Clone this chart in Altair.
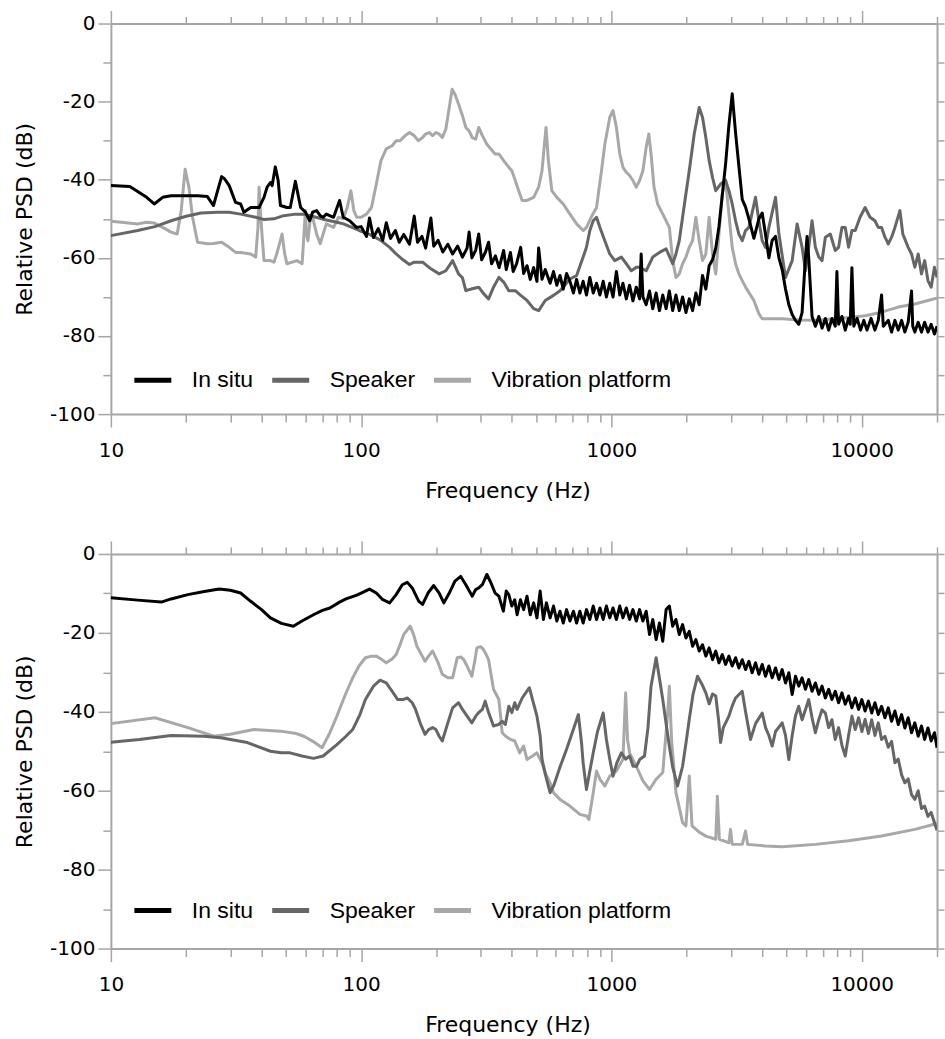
import altair as alt
import pandas as pd

# ---- series names and colours ----
SERIES = ["In situ", "Speaker", "Vibration platform"]
COLORS = ["#000000", "#666666", "#a8a8a8"]

# ---- axis ticks ----
X_TICKS = [10, 20, 30, 40, 50, 60, 70, 80, 90,
           100, 200, 300, 400, 500, 600, 700, 800, 900,
           1000, 2000, 3000, 4000, 5000, 6000, 7000, 8000, 9000,
           10000, 20000]
X_MAJOR = [10, 100, 1000, 10000]
Y_TICKS = [-100, -90, -80, -70, -60, -50, -40, -30, -20, -10, 0]

# ================= upper panel =================
top_insitu_hz = [10, 11.9, 13.9, 14.9, 16.1, 17.4, 19.8, 22.2, 24.3, 25.7, 26.7, 27.7, 28.5, 29.7,
                 31.5, 33.0, 34.0, 36.2, 39.1, 40.9, 42.1, 43.4, 44.1, 45.4, 46.6, 47.6, 50.5, 52.1,
                 54.6, 57.3, 59.9, 62.3, 64.0, 66.4, 68.6, 70.5, 72.6, 77.6, 82.0, 84.8, 90.0, 95.8,
                 100, 105, 108, 112, 117, 122, 126, 131, 137, 142, 148, 156, 163, 168, 175, 181,
                 190, 195, 203, 212, 222, 232, 243, 254, 265, 270, 277, 287, 295, 303, 314, 323,
                 332, 344, 356, 371, 380, 395, 405, 418, 434, 446, 460, 474, 489, 504, 512, 528,
                 544, 569, 587, 605, 623, 642, 662, 683, 705, 726, 748, 771, 795, 820, 846, 872,
                 900, 927, 955, 985, 1015, 1047, 1080, 1112, 1147, 1182, 1219, 1257, 1296, 1315,
                 1336, 1377, 1420, 1463, 1509, 1556, 1604, 1654, 1704, 1757, 1811, 1867, 1925,
                 1985, 2047, 2110, 2175, 2243, 2312, 2384, 2458, 2535, 2612, 2690, 2773, 2859,
                 2948, 3039, 3134, 3231, 3332, 3436, 3543, 3710, 3884, 4004, 4129, 4258, 4390,
                 4527, 4670, 4812, 4963, 5117, 5276, 5440, 5606, 5780, 5960, 6050, 6143, 6335,
                 6532, 6740, 6945, 7161, 7380, 7606, 7843, 7963, 8087, 8340, 8597, 8866, 9000,
                 9141, 9300, 9590, 9900, 10200, 10500, 10900, 11297, 11650, 12010, 12200, 12770,
                 13170, 13580, 14000, 14440, 14880, 15340, 15820, 16000, 16310, 16820, 17340,
                 17850, 18400, 18950, 19540, 20000]
top_insitu_db = [-41.5, -41.7, -44.5, -46.2, -44.5, -44.1, -44.1, -44.1, -44.3, -46.6, -42.8, -39.2, -39.8, -41.5,
                 -45.8, -46.2, -48.3, -47.1, -47.1, -44.5, -41.9, -40.7, -41.5, -36.7, -40.2, -46.6, -47.1, -47.1,
                 -40.4, -47.1, -48.3, -50.5, -48.3, -47.9, -49.2, -49.6, -48.8, -49.6, -45.3, -49.6, -50.5, -52.2,
                 -52.0, -54.5, -49.8, -54.8, -52.5, -55.5, -51.0, -55.0, -53.0, -56.0, -54.0, -56.5, -49.3, -56.0, -54.5, -57.5,
                 -49.8, -57.0, -55.5, -58.5, -56.5, -59.0, -57.0, -59.8, -57.5, -53.4, -60.0, -58.0, -53.9, -60.5, -58.5, -56.0,
                 -61.5, -59.5, -62.5, -58.1, -63.0, -58.6, -63.5, -61.5, -57.3, -64.0, -62.0, -65.5, -62.5, -66.0, -57.5, -65.5,
                 -63.0, -66.5, -63.5, -67.0, -64.5, -68.0, -64.0, -66.0, -69.0, -65.5, -69.0, -66.0, -69.5, -65.0, -69.0, -66.5,
                 -69.5, -66.0, -70.0, -66.5, -70.0, -63.5, -69.5, -66.5, -70.5, -67.0, -71.0, -67.5, -70.5, -59.0,
                 -70.0, -72.0, -68.5, -73.0, -69.0, -73.5, -69.5, -73.0, -68.5, -73.5, -69.5, -73.5, -70.0,
                 -74.0, -70.5, -73.5, -69.0, -72.0, -64.5, -68.0, -62.0, -60.5, -57.5, -52.0, -44.0, -36.0,
                 -26.0, -18.0, -28.0, -36.5, -45.0, -47.0, -50.0, -55.0, -50.0, -48.5, -54.0, -60.0, -55.5,
                 -54.5, -60.0, -63.0, -68.0, -72.0, -74.5, -76.0, -77.0, -74.0, -60.0, -54.5, -60.0, -75.0,
                 -77.5, -75.0, -78.0, -75.5, -78.5, -75.5, -77.5, -63.5, -77.0, -75.0, -78.5, -75.5, -77.0,
                 -62.5, -77.5, -75.5, -78.5, -76.0, -78.5, -75.5, -78.5, -76.0, -69.5, -77.5, -76.0,
                 -79.0, -76.0, -78.5, -76.0, -79.0, -76.5, -68.5, -77.5, -79.0, -76.5, -79.0,
                 -76.5, -79.0, -77.0, -79.5, -77.5]

top_speaker_hz = [10, 12.8, 15, 17.4, 19.8, 22.9, 26.7, 29.7, 33.0, 37.9, 41, 44.8, 49, 54.6, 59, 66,
                  72.6, 80, 85, 95, 100, 108, 119, 130, 138, 147, 156, 163, 176, 190, 205, 218, 232,
                  245, 254, 262, 278, 295, 309, 323, 338, 355, 371, 389, 413, 434, 460, 489, 512, 544,
                  587, 623, 683, 726, 771, 795, 820, 846, 872, 900, 941, 985, 1031, 1096, 1147, 1201,
                  1257, 1296, 1377, 1463, 1556, 1654, 1757, 1811, 1867, 1925, 1985, 2047, 2142, 2243,
                  2312, 2384, 2458, 2535, 2612, 2731, 2859, 2948, 3039, 3134, 3231, 3332, 3436, 3543,
                  3766, 3884, 4004, 4129, 4258, 4527, 4670, 4963, 5276, 5521, 5780, 5960, 6143, 6335,
                  6532, 6740, 6945, 7161, 7491, 7843, 8087, 8340, 8597, 8866, 9141, 9426, 9850, 10320,
                  10800, 11297, 11650, 12010, 12390, 12770, 13170, 13580, 14220, 14600, 15340, 15820,
                  16310, 16820, 17340, 17850, 18400, 18950, 19540, 20000]
top_speaker_db = [-54.3, -53.0, -52.0, -50.5, -49.4, -48.5, -48.3, -48.3, -48.8, -49.6, -50.2, -50.0, -49.2, -48.8, -48.8, -49.6,
                  -50.3, -50.9, -51.3, -52.6, -53.2, -54.0, -55.4, -57.3, -59.0, -60.5, -61.7, -61.1, -61.1, -62.8, -64.1, -63.3, -60.7,
                  -64.1, -65.1, -68.4, -67.9, -67.5, -69.2, -70.5, -67.5, -65.0, -66.2, -68.4, -68.4, -69.6, -70.9, -73.0, -73.5, -70.9,
                  -69.6, -68.4, -65.4, -64.5, -59.8, -57.3, -53.0, -50.5, -49.6, -52.2, -55.6, -59.0, -60.7, -59.8, -61.5, -63.3,
                  -62.4, -62.4, -63.3, -59.8, -58.6, -57.7, -61.5, -59.0, -55.6, -49.6, -43.6, -37.7, -28.3, -21.5,
                  -24.0, -29.2, -35.1, -39.4, -42.8, -41.1, -40.2, -42.8, -46.2, -50.5, -53.9, -55.6, -53.0, -52.2,
                  -44.5, -50.5, -55.6, -57.3, -52.2, -44.5, -53.9, -65.0, -60.7, -51.3, -57.3, -63.3, -57.3, -50.5,
                  -57.3, -59.8, -60.7, -54.7, -53.9, -58.1, -57.3, -52.2, -52.2, -57.3, -53.0, -53.0, -49.6, -47.1,
                  -49.6, -50.5, -52.2, -52.2, -54.7, -56.4, -54.7, -52.2, -47.9, -53.9, -57.3, -59.0,
                  -62.4, -59.0, -64.1, -60.7, -65.8, -67.5, -62.4, -65.0]

top_vib_hz = [10, 11.0, 12.8, 13.9, 14.9, 16.1, 17.4, 18.4, 19.1, 19.8, 20.5, 21.2, 22.2, 24.3, 25.7, 27.7,
              29.7, 31.5, 33.0, 36.2, 37.9, 38.7, 39.1, 39.7, 40.9, 43.4, 44.8, 46.0, 48.3, 49.5, 50.5, 55.4,
              58.1, 59.9, 60.5, 61.3, 62.5, 64.0, 66.4, 68.6, 70.5, 72.6, 77.6, 81.2, 84.8, 88.0, 91.0, 93.5,
              96, 100, 105, 110, 115, 120, 126, 133, 138, 143, 150, 156, 163, 169, 176, 181, 187, 193, 199,
              205, 211, 218, 225, 231, 237, 245, 254, 262, 270, 278, 287, 295, 305, 318, 330, 343, 355, 371,
              389, 400, 413, 426, 440, 460, 489, 512, 528, 540, 548, 560, 578, 605, 642, 683, 726, 771, 795,
              830, 872, 913, 941, 985, 1015, 1047, 1080, 1112, 1147, 1182, 1219, 1257, 1296, 1336, 1377,
              1411, 1440, 1480, 1530, 1604, 1654, 1704, 1757, 1811, 1867, 1925, 1985, 2047, 2110, 2175,
              2243, 2312, 2384, 2458, 2535, 2612, 2690, 2773, 2859, 2948, 3039, 3134, 3231, 3436, 3710,
              3884, 4004, 4258, 4812, 5606, 6532, 7843, 9141, 10320, 12010, 14000, 16310, 18400, 20000]
top_vib_db = [-50.6, -50.9, -51.3, -50.9, -51.1, -52.2, -53.4, -53.9, -47.9, -37.3, -41.9, -49.6, -56.0, -56.4, -56.3, -56.0,
              -57.3, -58.6, -58.6, -59.0, -59.8, -52.2, -41.9, -49.6, -60.7, -60.7, -61.1, -59.0, -53.9, -59.0, -61.5, -60.7,
              -61.5, -47.9, -53.9, -55.6, -50.5, -49.6, -53.9, -56.4, -53.9, -51.3, -52.2, -49.6, -50.0, -47.1, -42.8, -47.9,
              -49.6, -49.6, -48.8, -47.1, -41.1, -35.1, -32.1, -31.3, -30.0, -30.0, -28.7, -27.9, -28.7, -30.0, -29.2, -28.3, -27.9, -28.7, -27.9,
              -28.3, -29.2, -27.0, -21.5, -16.8, -18.1, -20.6, -23.6, -26.6, -27.5, -29.2, -29.6, -26.6, -28.7, -30.9, -32.1, -33.4, -33.4, -35.1,
              -36.8, -37.7, -40.2, -42.8, -45.3, -45.3, -44.5, -41.9, -37.7, -30.9, -26.6, -35.1, -42.8, -44.5, -46.2, -48.8, -51.3, -53.0, -52.2,
              -49.6, -47.1, -37.7, -30.9, -24.0, -22.3, -26.6, -33.4, -36.8, -38.1, -38.9, -40.2, -41.9, -40.2, -37.7, -31.7,
              -28.3, -33.4, -41.9, -46.2, -48.8, -50.5, -52.2, -60.7, -65.0, -64.1, -61.5, -59.8, -57.3, -55.6, -49.6,
              -55.6, -60.7, -59.0, -49.6, -59.0, -64.1, -53.9, -43.6, -40.0, -48.8, -57.3, -61.5, -64.1, -67.5, -70.9,
              -74.3, -75.6, -75.6, -75.6, -75.9, -76.0, -75.6, -75.2, -74.8, -73.9, -72.6, -71.8, -70.9, -70.3]

# ================= lower panel =================
bot_insitu_hz = [10, 12.8, 15.9, 17.4, 20.3, 23.6, 27.1, 30, 33, 36.2, 40, 43.4, 48, 53.6, 58, 64.5, 70, 75,
                 82, 87, 95.5, 100, 108, 115, 122, 130, 138, 146, 153, 160, 170, 176, 185, 195, 205, 214,
                 225, 237, 250, 262, 278, 287, 295, 305, 318, 330, 343, 355, 370, 380, 389, 400, 411, 420,
                 433, 446, 460, 474, 489, 504, 519, 535, 550, 569, 587, 605, 623, 642, 662, 683, 705, 726,
                 748, 771, 795, 820, 846, 872, 900, 927, 955, 985, 1015, 1047, 1080, 1112, 1147, 1182, 1219,
                 1257, 1296, 1336, 1377, 1420, 1463, 1509, 1556, 1604, 1654, 1704, 1757, 1811, 1867, 1925,
                 1985, 2047, 2110, 2175, 2243, 2312, 2384, 2458, 2535, 2612, 2690, 2773, 2859, 2948, 3039,
                 3134, 3231, 3332, 3436, 3543, 3650, 3766, 3884, 4004, 4129, 4258, 4390, 4527, 4670, 4812,
                 4963, 5117, 5276, 5440, 5606, 5780, 5960, 6143, 6335, 6532, 6740, 6945, 7161, 7380, 7606,
                 7843, 8087, 8340, 8597, 8866, 9141, 9426, 9720, 10020, 10320, 10640, 10970, 11300, 11650,
                 12010, 12390, 12770, 13170, 13580, 14000, 14440, 14880, 15340, 15820, 16310, 16820, 17340,
                 17850, 18400, 18950, 19540, 20000]
bot_insitu_db = [-11.1, -11.7, -12.2, -11.4, -10.3, -9.5, -8.9, -9.2, -9.9, -12.0, -14.1, -16.2, -17.6, -18.3, -17.0, -15.4, -14.3, -13.7,
                 -12.2, -11.4, -10.5, -9.9, -8.9, -9.9, -11.6, -12.4, -10.3, -7.8, -7.2, -8.6, -12.0, -12.8, -9.9, -8.0, -9.9, -12.4,
                 -9.9, -6.9, -5.7, -7.8, -10.7, -9.0, -8.6, -7.8, -5.2, -7.3, -9.9, -10.7, -14.5, -9.4, -10.3, -13.2, -11.6, -15.4,
                 -11.6, -14.1, -10.7, -15.4, -12.4, -16.2, -9.4, -16.6, -12.4, -16.2, -13.2, -17.0, -14.5, -17.5, -14.1, -17.0, -14.5, -17.5,
                 -14.5, -17.5, -14.1, -16.6, -13.2, -16.6, -13.7, -16.6, -13.2, -16.2, -13.7, -16.6, -13.2, -16.2, -13.7, -16.6, -14.1,
                 -17.0, -14.1, -17.0, -14.5, -20.4, -16.6, -21.7, -17.5, -22.1, -14.1, -13.2, -18.3, -16.6, -20.4, -17.9,
                 -21.3, -19.6, -23.4, -21.7, -24.6, -23.0, -25.9, -23.8, -26.8, -24.6, -27.6, -25.5, -28.0, -25.9, -28.4,
                 -26.3, -28.9, -26.8, -29.3, -27.2, -30.1, -27.6, -30.5, -28.0, -31.0, -28.4, -31.4, -28.9, -31.8, -29.3,
                 -32.7, -30.1, -35.6, -31.0, -33.5, -31.4, -34.3, -31.8, -34.8, -32.7, -35.6, -33.5, -36.5, -34.3, -36.9,
                 -34.8, -37.7, -35.2, -38.1, -36.0, -39.0, -36.5, -39.4, -36.9, -39.8, -37.3, -40.3, -37.7, -40.7,
                 -38.6, -41.5, -39.0, -42.4, -39.8, -43.2, -40.7, -44.1, -41.5, -45.3, -42.8, -46.2, -43.6,
                 -47.0, -44.1, -47.4, -45.3, -49.1]

bot_speaker_hz = [10, 13, 17.4, 23.6, 27.5, 35.1, 43.4, 48, 52, 58, 64.5, 70.5, 80, 87, 92.5, 98.9, 104, 112,
                  119, 126, 133, 140, 147, 153, 160, 165, 172, 180, 186, 193, 199, 205, 211, 222, 232, 245,
                  254, 265, 277, 287, 295, 305, 313, 323, 338, 355, 366, 377, 389, 400, 411, 420, 440, 470,
                  489, 504, 519, 528, 545, 569, 590, 623, 662, 700, 738, 760, 771, 795, 820, 846, 880, 927,
                  955, 985, 1015, 1050, 1096, 1140, 1182, 1220, 1260, 1300, 1356, 1400, 1440, 1509, 1560,
                  1604, 1654, 1704, 1757, 1838, 1925, 1985, 2047, 2120, 2208, 2300, 2384, 2458, 2535, 2612,
                  2680, 2731, 2800, 2948, 3039, 3134, 3332, 3436, 3597, 3766, 4004, 4129, 4258, 4390, 4527,
                  4812, 4963, 5117, 5276, 5440, 5606, 5780, 5960, 6143, 6335, 6532, 6740, 6945, 7161, 7380,
                  7606, 7843, 8087, 8340, 8597, 8866, 9141, 9426, 9720, 10020, 10320, 10640, 10970, 11300,
                  11650, 12010, 12390, 12770, 13170, 13580, 14000, 14440, 14880, 15340, 15820, 16310, 16820,
                  17340, 17850, 18400, 18950, 19540, 20000]
bot_speaker_db = [-47.7, -47.0, -46.0, -46.2, -46.6, -47.8, -50.0, -50.4, -50.4, -51.2, -51.8, -51.2, -48.3, -46.2, -44.5, -40.7, -36.9, -33.5,
                  -32.0, -32.7, -34.8, -36.9, -36.9, -36.5, -37.7, -39.4, -42.8, -45.7, -44.5, -44.0, -44.5, -46.2, -47.4, -42.8, -39.0, -37.7,
                  -39.4, -41.1, -42.8, -41.1, -40.2, -39.4, -37.3, -40.2, -43.6, -43.2, -42.4, -43.2, -38.6, -40.2, -37.7, -39.4, -36.5, -33.9,
                  -38.0, -41.1, -46.0, -52.0, -56.0, -60.5, -58.5, -54.0, -49.5, -45.0, -40.7, -48.0, -53.0, -59.7, -55.0, -50.4, -45.0, -40.3,
                  -47.0, -52.0, -56.3, -53.0, -50.4, -52.0, -51.2, -53.8, -53.8, -52.0, -51.2, -44.0, -33.5, -26.3, -32.0,
                  -36.9, -43.0, -48.7, -54.0, -58.8, -53.8, -48.0, -41.9, -35.5, -31.0, -33.0, -35.2, -38.0, -35.5, -36.0,
                  -42.0, -47.8, -44.0, -41.1, -38.5, -36.5, -34.8, -40.0, -47.0, -43.0, -40.3, -44.0, -46.0, -48.7, -45.0,
                  -42.8, -46.0, -52.1, -46.0, -41.0, -38.6, -42.0, -39.5, -36.9, -41.5, -45.3, -42.0, -39.5, -40.3, -44.0,
                  -42.0, -47.0, -44.0, -48.5, -51.2, -46.0, -41.1, -44.5, -41.5, -45.0, -41.9, -45.5, -42.0, -46.0,
                  -42.8, -47.0, -46.2, -49.0, -47.5, -52.9, -52.0, -56.0, -58.0, -57.0, -61.0, -62.2, -60.0,
                  -64.5, -63.9, -66.5, -65.5, -68.1, -70.0]

bot_vib_hz = [10, 15, 20.3, 25.8, 30, 37.3, 47.6, 55, 59, 65, 69.8, 75, 80, 86, 92.5, 98, 104, 110, 115, 120,
              126, 133, 138, 143, 148, 153, 157, 162, 167, 174, 180, 186, 193, 202, 211, 222, 232, 242, 250,
              257, 265, 277, 285, 290, 300, 308, 316, 323, 338, 355, 362, 366, 378, 395, 411, 430, 446, 460,
              489, 504, 528, 544, 569, 587, 623, 683, 748, 795, 813, 846, 872, 900, 941, 985, 1047, 1112,
              1140, 1160, 1182, 1257, 1336, 1420, 1509, 1604, 1680, 1704, 1740, 1811, 1925, 1985, 2047,
              2100, 2243, 2384, 2612, 2651, 2700, 2948, 2992, 3039, 3332, 3436, 3500, 4129, 4812, 6532,
              8866, 12010, 16310, 20000]
bot_vib_db = [-43.0, -41.5, -44.0, -46.2, -45.7, -44.5, -44.9, -45.5, -46.2, -47.7, -49.1, -45.3, -41.1, -36.0, -31.4, -28.4, -26.3, -25.9, -25.9, -26.6,
              -27.6, -26.6, -25.5, -23.0, -20.4, -19.2, -18.3, -20.4, -23.4, -25.5, -27.2, -25.9, -24.6, -27.2, -30.5, -31.4, -31.4, -26.3, -26.1,
              -26.8, -28.4, -31.0, -26.8, -23.8, -23.5, -24.2, -25.5, -26.8, -34.3, -36.9, -41.9, -45.3, -46.2, -47.0, -47.4, -50.4, -48.7, -52.1,
              -51.0, -50.4, -53.0, -55.4, -58.0, -60.5, -62.2, -63.9, -66.0, -66.4, -67.3, -60.5, -55.0, -57.1, -58.8, -56.3, -55.0, -52.0,
              -35.2, -47.0, -50.4, -53.8, -57.5, -59.7, -57.1, -55.4, -40.0, -33.5, -47.3, -60.5, -68.1, -68.9, -56.3,
              -68.9, -70.5, -71.5, -72.3, -61.4, -72.3, -73.2, -69.8, -73.6, -73.6, -70.2, -73.6, -74.0, -74.2, -73.6,
              -72.7, -71.5, -69.8, -68.3]

AXIS_GREY = "#a6a6a6"
MAJOR_TEST_X = "indexof([10, 100, 1000, 10000], datum.value) >= 0"
MAJOR_TEST_Y = "datum.value % 20 === 0"


def frame(hz, db, name):
    return pd.DataFrame({"f": hz, "db": db, "series": name})


def panel(ins, spk, vib, height):
    x_scale = alt.Scale(type="log", domain=[10, 20000], nice=False)
    y_scale = alt.Scale(domain=[-100, 0], nice=False)
    color = alt.Color(
        "series:N",
        scale=alt.Scale(domain=SERIES, range=COLORS),
        legend=alt.Legend(
            title=None, orient="none", legendX=21, legendY=336,
            direction="horizontal", symbolType="stroke", symbolSize=1369,
            symbolStrokeWidth=5, labelFont="Liberation Sans", labelFontSize=23,
            labelColor="#000000", labelOffset=18, columnPadding=8, padding=0,
            labelLimit=400,
        ),
    )
    x_bottom = alt.Axis(
        values=X_TICKS, orient="bottom", title="Frequency (Hz)", format="d",
        labelExpr=MAJOR_TEST_X + " ? datum.label : ''",
        tickSize={"condition": {"test": MAJOR_TEST_X, "value": 13}, "value": 8},
        labelPadding=13, titlePadding=20, titleX=397,
        labelFlush=False, labelOverlap=False,
    )
    x_top = alt.Axis(
        values=X_TICKS, orient="top", title=None, labels=False,
        tickSize={"condition": {"test": MAJOR_TEST_X, "value": 13}, "value": 7},
    )
    y_left = alt.Axis(
        values=Y_TICKS, orient="left", title="Relative PSD (dB)",
        labelExpr=MAJOR_TEST_Y + " ? '' + datum.value : ''",
        tickSize={"condition": {"test": MAJOR_TEST_Y, "value": 13}, "value": 8},
        labelPadding=3, titlePadding=13, labelOverlap=False,
    )
    y_right = alt.Axis(values=Y_TICKS, orient="right", title=None, labels=False, tickSize=7)

    line = dict(strokeWidth=3, clip=True, strokeJoin="round")
    vib_layer = alt.Chart(vib).mark_line(**line).encode(
        x=alt.X("f:Q", scale=x_scale, axis=x_bottom),
        y=alt.Y("db:Q", scale=y_scale, axis=y_left),
        color=color,
    )
    spk_layer = alt.Chart(spk).mark_line(**line).encode(
        x=alt.X("f:Q", scale=x_scale, axis=x_top),
        y=alt.Y("db:Q", scale=y_scale, axis=y_right),
        color=color,
    )
    ins_layer = alt.Chart(ins).mark_line(**line).encode(
        x=alt.X("f:Q", scale=x_scale, axis=None),
        y=alt.Y("db:Q", scale=y_scale, axis=None),
        color=color,
    )
    return (
        alt.layer(vib_layer, spk_layer, ins_layer)
        .resolve_axis(x="independent", y="independent")
        .properties(width=827, height=height)
    )


upper = panel(
    frame(top_insitu_hz, top_insitu_db, SERIES[0]),
    frame(top_speaker_hz, top_speaker_db, SERIES[1]),
    frame(top_vib_hz, top_vib_db, SERIES[2]),
    391,
)
lower = panel(
    frame(bot_insitu_hz, bot_insitu_db, SERIES[0]),
    frame(bot_speaker_hz, bot_speaker_db, SERIES[1]),
    frame(bot_vib_hz, bot_vib_db, SERIES[2]),
    395,
)

chart = (
    alt.vconcat(upper, lower, spacing=39)
    .resolve_scale(color="independent")
    .properties(padding={"left": 13, "top": 9, "right": 0, "bottom": 0}, background="white")
    .configure_view(stroke=None)
    .configure_axis(
        grid=False,
        domainColor=AXIS_GREY, domainWidth=2,
        tickColor=AXIS_GREY, tickWidth=1.5,
        labelFont="DejaVu Sans", labelFontSize=20, labelColor="#000000",
        titleFont="DejaVu Sans", titleFontSize=22, titleFontWeight="normal", titleColor="#000000",
    )
)

chart.save("out.html", embed_options={"renderer": "svg", "actions": False})
